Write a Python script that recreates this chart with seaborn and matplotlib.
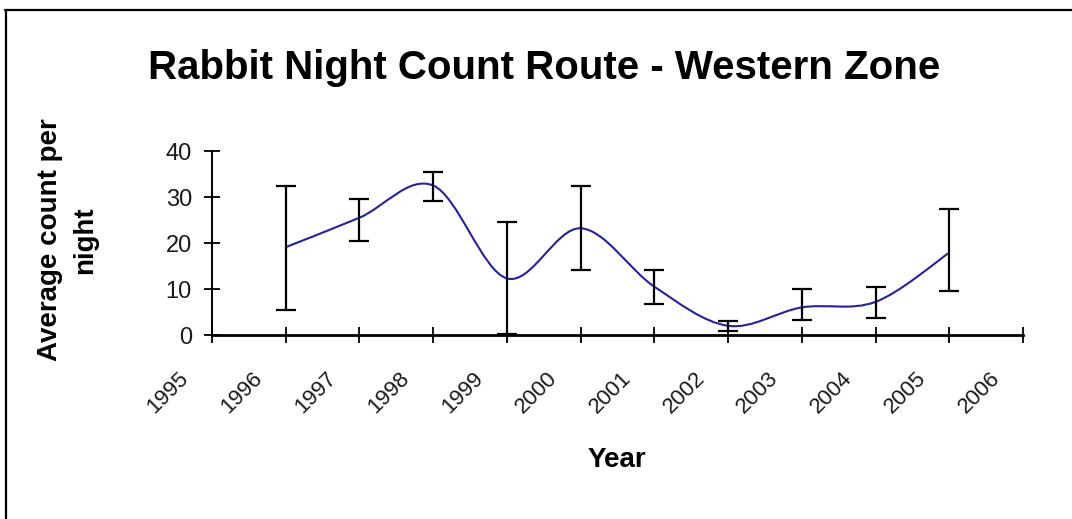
import matplotlib
matplotlib.use("Agg")
import numpy as np
import matplotlib.pyplot as plt
import seaborn as sns
from matplotlib.path import Path
from matplotlib.patches import PathPatch
from matplotlib.lines import Line2D
from matplotlib.transforms import ScaledTranslation

# values
years = [1996, 1997, 1998, 1999, 2000, 2001, 2002, 2003, 2004, 2005]
mean_count = [19.1, 25.5, 32.5, 12.3, 23.2, 10.5, 2.0, 6.0, 7.2, 17.9]
err_low = [5.5, 20.5, 29.2, 0.2, 14.2, 6.8, 0.9, 3.2, 3.6, 9.6]
err_high = [32.3, 29.5, 35.5, 24.6, 32.3, 14.1, 3.1, 10.0, 10.5, 27.3]
tick_years = [1995, 1996, 1997, 1998, 1999, 2000, 2001, 2002, 2003, 2004, 2005, 2006]
y_ticks = [0, 10, 20, 30, 40]

sns.set_style("white")
plt.rcParams["font.family"] = ["Liberation Sans", "DejaVu Sans"]
plt.rcParams["text.color"] = "black"

W, H = 1072, 519
fig = plt.figure(figsize=(W / 100, H / 100), dpi=100)
ax = fig.add_axes([212 / W, 1 - 335 / H, (1023 - 212) / W, (335 - 151) / H])

# smoothed line (Excel style bezier through the data points)
x = np.array(years, dtype=float)
y = np.array(mean_count, dtype=float)
pts = np.column_stack([x, y])
verts = [tuple(pts[0])]
codes = [Path.MOVETO]
n = len(pts)
for i in range(n - 1):
    p0 = pts[max(i - 1, 0)]
    p1 = pts[i]
    p2 = pts[i + 1]
    p3 = pts[min(i + 2, n - 1)]
    c1 = p1 + (p2 - p0) / 6
    c2 = p2 - (p3 - p1) / 6
    verts += [tuple(c1), tuple(c2), tuple(p2)]
    codes += [Path.CURVE4] * 3
ax.add_patch(PathPatch(Path(verts, codes), fill=False, edgecolor="#23239a", lw=1.5, zorder=2))

yerr = [y - np.array(err_low), np.array(err_high) - y]
ax.errorbar(years, mean_count, yerr=yerr, fmt="none", ecolor="black",
            elinewidth=1.6, capsize=7.5, capthick=1.6, zorder=3)

ax.set_xlim(1995, 2006)
ax.set_ylim(0, 40)
ax.set_xticks(tick_years)
ax.set_xticklabels([str(t) for t in tick_years], rotation=45, ha="right", va="top")
ax.set_yticks(y_ticks)

sns.despine(ax=ax)
for s in ["left", "bottom"]:
    ax.spines[s].set_color("black")
ax.spines["left"].set_linewidth(1.4)
ax.spines["bottom"].set_linewidth(2.0)
ax.tick_params(axis="both", direction="inout", length=11, width=1.3, colors="black",
               labelcolor="#1a1a1a", labelsize=16, bottom=True, left=True)
ax.tick_params(axis="y", pad=9, labelsize=17)
ax.tick_params(axis="x", pad=18)
offset = ScaledTranslation(-19 / 100, 0, fig.dpi_scale_trans)
for lab in ax.get_xticklabels():
    lab.set_transform(lab.get_transform() + offset)

fig.text(544 / W, 1 - 68 / H, "Rabbit Night Count Route - Western Zone",
         ha="center", va="center", fontsize=29, fontweight="bold")
fig.text(617 / W, 1 - 460 / H, "Year", ha="center", va="center",
         fontsize=20, fontweight="bold")
fig.text(68 / W, 1 - 240 / H, "Average count per\nnight", rotation=90,
         ha="center", va="center", multialignment="center",
         fontsize=20, fontweight="bold", linespacing=1.45)

# chart area border (cropped at right and bottom in the reference)
fig.add_artist(Line2D([6 / W, 6 / W], [0, 1 - 10 / H], transform=fig.transFigure,
                      color="black", lw=1.6))
fig.add_artist(Line2D([5 / W, 1], [1 - 10 / H, 1 - 10 / H], transform=fig.transFigure,
                      color="black", lw=1.6))

fig.savefig("out.png", dpi=100)
